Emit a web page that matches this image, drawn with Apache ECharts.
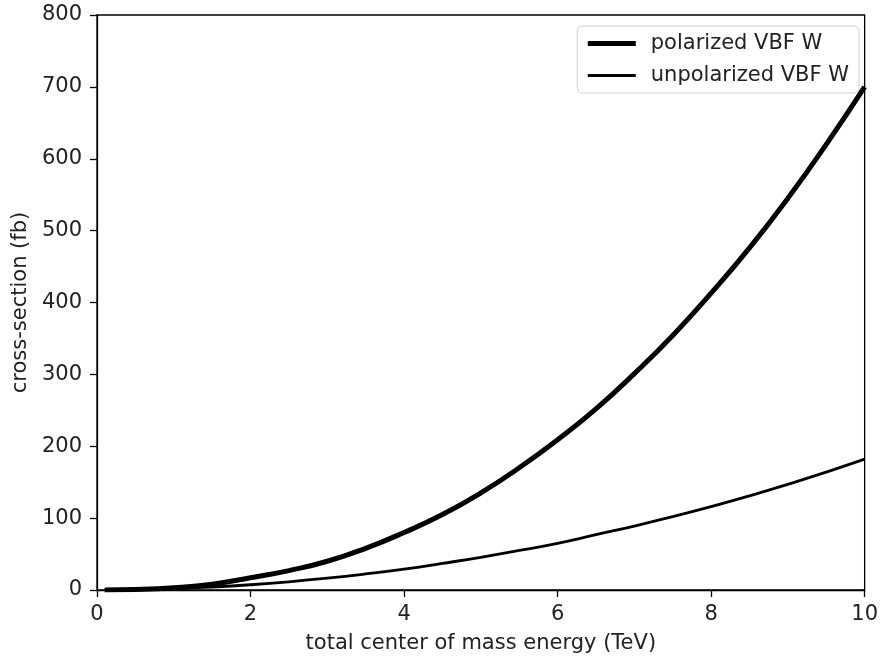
<!DOCTYPE html>
<html>
<head>
<meta charset="utf-8">
<script src="https://cdn.jsdelivr.net/npm/echarts@6/dist/echarts.min.js"></script>
<style>
  html, body { margin: 0; padding: 0; background: #fff; }
  #chart { width: 881px; height: 661px; }
</style>
</head>
<body>
<div id="chart"></div>
<script>
// energy (TeV)
var energy = [0.1, 0.5, 1, 1.5, 2, 2.5, 3, 3.5, 4, 4.5, 5, 5.5, 6, 6.5, 7, 7.5, 8, 8.5, 9, 9.5, 10];
// cross-section (fb)
var polarized = [0, 0.6, 3, 8, 17, 27, 40, 58, 80, 105, 135, 170, 209, 252, 301, 354, 413, 476, 545, 620, 700];
var unpolarized = [0, 0.5, 1.8, 4.1, 7.3, 11.4, 16.4, 22.3, 29, 37, 45.5, 55, 65, 77, 89, 102, 116, 131, 147, 164, 182];
var seriesNames = ['polarized VBF W', 'unpolarized VBF W'];

function pairs(xs, ys) {
    var out = [];
    for (var i = 0; i < xs.length; i++) {
        out.push([xs[i], ys[i]]);
    }
    return out;
}

var font = 'DejaVu Sans';
var txt = '#222';
var fs = 21;
var chart = echarts.init(document.getElementById('chart'));

var option = {
    animation: false,
    grid: {
        left: 97, right: 14, top: 15, bottom: 71,
        show: true, borderColor: '#000', borderWidth: 1.3
    },
    legend: {
        right: 22, top: 26,
        orient: 'vertical',
        itemWidth: 48, itemHeight: 21, itemGap: 11,
        padding: [7, 10, 7, 8],
        backgroundColor: '#fff',
        borderColor: '#d0d0d0', borderWidth: 1, borderRadius: 5,
        itemStyle: { opacity: 0 },
        textStyle: { fontFamily: font, fontSize: fs, color: txt, padding: [0, 0, 0, 10] },
        data: [
            { name: seriesNames[0], lineStyle: { width: 5, color: '#000' } },
            { name: seriesNames[1], lineStyle: { width: 3, color: '#000' } }
        ]
    },
    xAxis: {
        type: 'value', min: 0, max: 10, interval: 2,
        name: 'total center of mass energy (TeV)',
        nameLocation: 'middle', nameGap: 43,
        nameTextStyle: { fontFamily: font, fontSize: fs, color: txt },
        axisLine: { lineStyle: { color: '#000', width: 1.3 } },
        axisTick: { show: true, inside: false, length: 7, lineStyle: { color: '#000', width: 1.3 } },
        axisLabel: { fontFamily: font, fontSize: fs, color: txt, margin: 14 },
        splitLine: { show: false }
    },
    yAxis: {
        type: 'value', min: 0, max: 800, interval: 100,
        name: 'cross-section (fb)',
        nameLocation: 'middle', nameGap: 66,
        nameTextStyle: { fontFamily: font, fontSize: fs, color: txt },
        axisLine: { show: true, lineStyle: { color: '#000', width: 1.3 } },
        axisTick: { show: true, inside: false, length: 7, lineStyle: { color: '#000', width: 1.3 } },
        axisLabel: { fontFamily: font, fontSize: fs, color: txt, margin: 15 },
        splitLine: { show: false }
    },
    series: [
        {
            name: seriesNames[0], type: 'line', smooth: true, showSymbol: false,
            symbol: 'none',
            lineStyle: { color: '#000', width: 5 },
            itemStyle: { color: '#000' },
            data: pairs(energy, polarized)
        },
        {
            name: seriesNames[1], type: 'line', smooth: true, showSymbol: false,
            symbol: 'none',
            lineStyle: { color: '#000', width: 2.8 },
            itemStyle: { color: '#000' },
            data: pairs(energy, unpolarized)
        }
    ]
};

chart.setOption(option);
</script>
</body>
</html>
